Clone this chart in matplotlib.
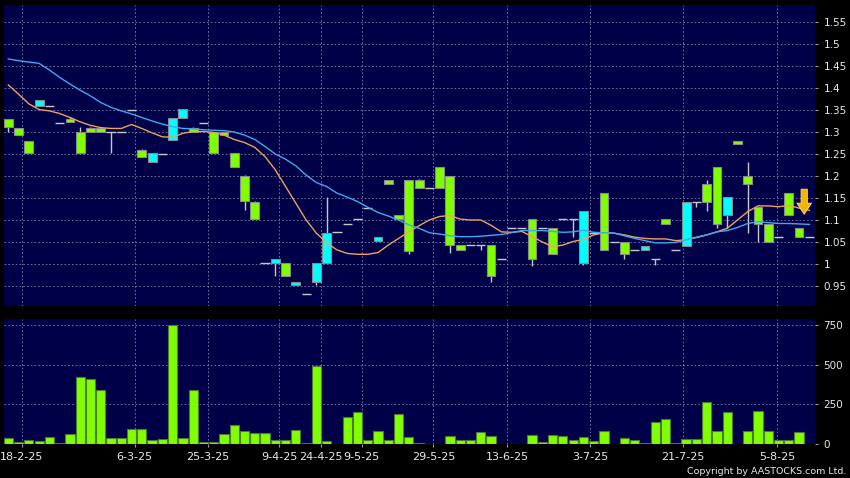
import matplotlib
matplotlib.use('Agg')
import matplotlib.pyplot as plt
import numpy as np

# ---------------- data ----------------
opens = [1.33, 1.31, 1.28, 1.36, 1.36, 1.32, 1.33, 1.30, 1.31, 1.31,
         1.30, 1.30, 1.35, 1.26, 1.231, 1.25, 1.282, 1.331, 1.31, 1.32,
         1.30, 1.30, 1.252, 1.20, 1.142, 1.002, 1.002, 1.002, 0.952, 0.932,
         0.96, 1.002, 1.072, 1.092, 1.102, 1.128, 1.052, 1.192, 1.111, 1.192,
         1.192, 1.172, 1.221, 1.201, 1.043, 1.043, 1.043, 1.043, 1.011, 1.081,
         1.081, 1.102, 1.081, 1.081, 1.102, 1.102, 1.002, 1.07, 1.161, 1.051,
         1.051, 1.032, 1.032, 1.011, 1.102, 1.032, 1.042, 1.142, 1.181, 1.221,
         1.111, 1.280, 1.201, 1.130, 1.092, 1.061, 1.161, 1.081, 1.061]
closes = [1.311, 1.293, 1.252, 1.373, 1.36, 1.32, 1.322, 1.252, 1.301, 1.301,
          1.30, 1.30, 1.35, 1.243, 1.252, 1.25, 1.331, 1.352, 1.301, 1.32,
          1.252, 1.293, 1.221, 1.143, 1.102, 1.002, 1.011, 0.973, 0.960, 0.932,
          1.002, 1.071, 1.072, 1.092, 1.102, 1.128, 1.061, 1.182, 1.102, 1.030,
          1.172, 1.172, 1.172, 1.043, 1.032, 1.043, 1.043, 0.973, 1.011, 1.081,
          1.081, 1.011, 1.081, 1.023, 1.102, 1.102, 1.121, 1.07, 1.032, 1.051,
          1.023, 1.032, 1.042, 1.011, 1.092, 1.032, 1.142, 1.142, 1.142, 1.092,
          1.152, 1.272, 1.181, 1.092, 1.051, 1.061, 1.111, 1.061, 1.061]
highs = [1.33, 1.31, 1.28, 1.373, 1.36, 1.32, 1.333, 1.312, 1.311, 1.311,
         1.30, 1.30, 1.35, 1.261, 1.252, 1.25, 1.331, 1.352, 1.311, 1.32,
         1.301, 1.301, 1.252, 1.202, 1.143, 1.002, 1.011, 1.002, 0.960, 0.932,
         1.002, 1.153, 1.072, 1.092, 1.102, 1.128, 1.061, 1.192, 1.111, 1.192,
         1.194, 1.172, 1.221, 1.201, 1.043, 1.043, 1.043, 1.043, 1.011, 1.081,
         1.081, 1.102, 1.081, 1.081, 1.102, 1.102, 1.121, 1.07, 1.161, 1.051,
         1.051, 1.032, 1.042, 1.011, 1.102, 1.032, 1.142, 1.142, 1.192, 1.221,
         1.152, 1.280, 1.232, 1.130, 1.092, 1.061, 1.161, 1.081, 1.061]
lows = [1.30, 1.293, 1.252, 1.36, 1.36, 1.32, 1.322, 1.252, 1.301, 1.301,
        1.252, 1.30, 1.35, 1.243, 1.231, 1.25, 1.282, 1.331, 1.301, 1.32,
        1.252, 1.293, 1.221, 1.123, 1.102, 1.002, 0.973, 0.973, 0.952, 0.932,
        0.952, 1.002, 1.072, 1.092, 1.102, 1.128, 1.052, 1.182, 1.102, 1.023,
        1.172, 1.172, 1.172, 1.025, 1.032, 1.043, 1.032, 0.960, 1.011, 1.081,
        1.081, 0.995, 1.081, 1.023, 1.102, 1.061, 0.998, 1.07, 1.032, 1.051,
        1.011, 1.032, 1.032, 0.998, 1.092, 1.032, 1.042, 1.130, 1.121, 1.081,
        1.081, 1.272, 1.071, 1.051, 1.051, 1.061, 1.111, 1.061, 1.061]
volumes = [40, 13, 23, 19, 44, 5, 63, 424, 412, 338,
           36, 40, 92, 92, 25, 34, 750, 36, 342, 15,
           13, 63, 122, 82, 69, 69, 27, 27, 86, 5,
           494, 21, 2, 170, 202, 27, 84, 27, 189, 46,
           5, 3, 3, 50, 25, 25, 74, 48, 3, 3,
           3, 57, 15, 54, 52, 25, 42, 17, 80, 3,
           36, 25, 8, 141, 155, 8, 30, 30, 265, 82,
           200, 3, 82, 206, 82, 27, 27, 76, 0]
ma_short = [1.407, 1.386, 1.364, 1.351, 1.348, 1.342, 1.333, 1.323, 1.315, 1.310,
            1.308, 1.308, 1.317, 1.308, 1.298, 1.289, 1.288, 1.297, 1.301, 1.301,
            1.299, 1.293, 1.283, 1.276, 1.265, 1.244, 1.214, 1.176, 1.138, 1.100,
            1.070, 1.048, 1.032, 1.024, 1.022, 1.022, 1.026, 1.043, 1.058, 1.073,
            1.087, 1.100, 1.108, 1.110, 1.102, 1.100, 1.100, 1.088, 1.073, 1.072,
            1.074, 1.062, 1.050, 1.039, 1.043, 1.051, 1.056, 1.066, 1.071, 1.070,
            1.066, 1.061, 1.058, 1.057, 1.057, 1.053, 1.055, 1.060, 1.066, 1.073,
            1.081, 1.100, 1.119, 1.132, 1.132, 1.130, 1.133, 1.127, 1.122]
ma_long = [1.466, 1.462, 1.459, 1.456, 1.441, 1.424, 1.409, 1.395, 1.382, 1.367,
           1.356, 1.348, 1.341, 1.333, 1.325, 1.318, 1.312, 1.308, 1.307, 1.305,
           1.304, 1.303, 1.300, 1.293, 1.283, 1.267, 1.250, 1.238, 1.223, 1.202,
           1.185, 1.176, 1.161, 1.152, 1.142, 1.129, 1.117, 1.109, 1.100, 1.089,
           1.081, 1.071, 1.068, 1.064, 1.062, 1.062, 1.063, 1.065, 1.067, 1.071,
           1.076, 1.076, 1.076, 1.074, 1.072, 1.073, 1.077, 1.072, 1.071, 1.070,
           1.064, 1.058, 1.053, 1.048, 1.048, 1.049, 1.055, 1.061, 1.066, 1.073,
           1.076, 1.083, 1.092, 1.096, 1.094, 1.092, 1.092, 1.091, 1.090]
date_labels = ["18-2-25", "6-3-25", "25-3-25", "9-4-25", "24-4-25", "9-5-25",
               "29-5-25", "13-6-25", "3-7-25", "21-7-25", "5-8-25"]
date_slots = [1.3, 12.3, 19.4, 26.4, 30.4, 34.4, 41.4, 48.55, 56.65, 65.7, 74.85]
price_ticks = [0.95, 1.0, 1.05, 1.1, 1.15, 1.2, 1.25, 1.3, 1.35, 1.4, 1.45, 1.5, 1.55]
volume_ticks = [0, 250, 500, 750]
arrow_slot, arrow_top, arrow_tip = 77.5, 1.170, 1.113

# ---------------- style ----------------
BG = '#000048'
GREEN = '#80ff00'
CYAN = '#00ffff'
GRID = '#8080aa'
TXT = '#e8e8e8'

fig = plt.figure(figsize=(8.5, 4.78), dpi=100, facecolor='black')
W, H = 850, 478
ax = fig.add_axes([4 / W, 1 - 306 / H, 811 / W, 301 / H])
axv = fig.add_axes([4 / W, 1 - 444 / H, 811 / W, 125 / H], sharex=ax)

o = np.array(opens); c = np.array(closes)
h = np.array(highs); l = np.array(lows)
x = np.arange(len(o))

for a in (ax, axv):
    a.set_facecolor(BG)
    for s in a.spines.values():
        s.set_visible(False)
    a.set_axisbelow(True)
    a.grid(True, color=GRID, linestyle=(0, (2, 2.5)), linewidth=0.6)
    a.yaxis.tick_right()
    a.tick_params(axis='y', colors='#a0a0a0', labelcolor=TXT, labelsize=7.5,
                  length=2.5, width=0.8, pad=3.5)

# wicks
ax.vlines(x, l, h, color='#c8c8c8', linewidth=1.0, zorder=2)
# doji
doji = o == c
ax.hlines(o[doji], x[doji] - 0.45, x[doji] + 0.45, color='#c8c8c8', linewidth=1.0, zorder=3)
# bodies
body = ~doji
up = c > o
cols = np.where(up, CYAN, GREEN)
ax.bar(x[body], np.abs(c - o)[body], bottom=np.minimum(o, c)[body], width=0.86,
       color=cols[body], edgecolor='#8a8a8a', linewidth=0.8, zorder=3)

# moving averages
ax.plot(x, ma_short, color='#f0a060', linewidth=1.0, zorder=4)
ax.plot(x, ma_long, color='#3fa8f0', linewidth=1.0, zorder=4)

# signal arrow
ax.annotate('', xy=(arrow_slot, arrow_tip), xytext=(arrow_slot, arrow_top),
            arrowprops=dict(facecolor='#f5b400', edgecolor='#ffe070', linewidth=0.6,
                            width=4.5, headwidth=10.5, headlength=8, shrink=0),
            zorder=5)

ax.set_ylim(0.9045, 1.5886)
ax.set_yticks(price_ticks)
ax.set_yticklabels(['%g' % v for v in price_ticks])
ax.set_xlim(-0.42, 78.55)
ax.set_xticks(date_slots)
ax.tick_params(axis='x', bottom=False, labelbottom=False)

# volume
axv.bar(x, volumes, width=0.9, color=GREEN, edgecolor='#4d7a30', linewidth=0.8, zorder=3)
axv.set_ylim(0, 788)
axv.set_yticks(volume_ticks)
axv.set_yticklabels([str(v) for v in volume_ticks])
axv.set_xticks(date_slots)
axv.set_xticklabels(date_labels)
axv.tick_params(axis='x', colors='#a0a0a0', labelcolor=TXT, labelsize=8,
                length=2.5, width=0.8, pad=3)

fig.text(846 / W, 1 - 471 / H, 'Copyright by AASTOCKS.com Ltd.', ha='right', va='center',
         color=TXT, fontsize=6.8)

fig.savefig('out.png', dpi=100, facecolor='black')
